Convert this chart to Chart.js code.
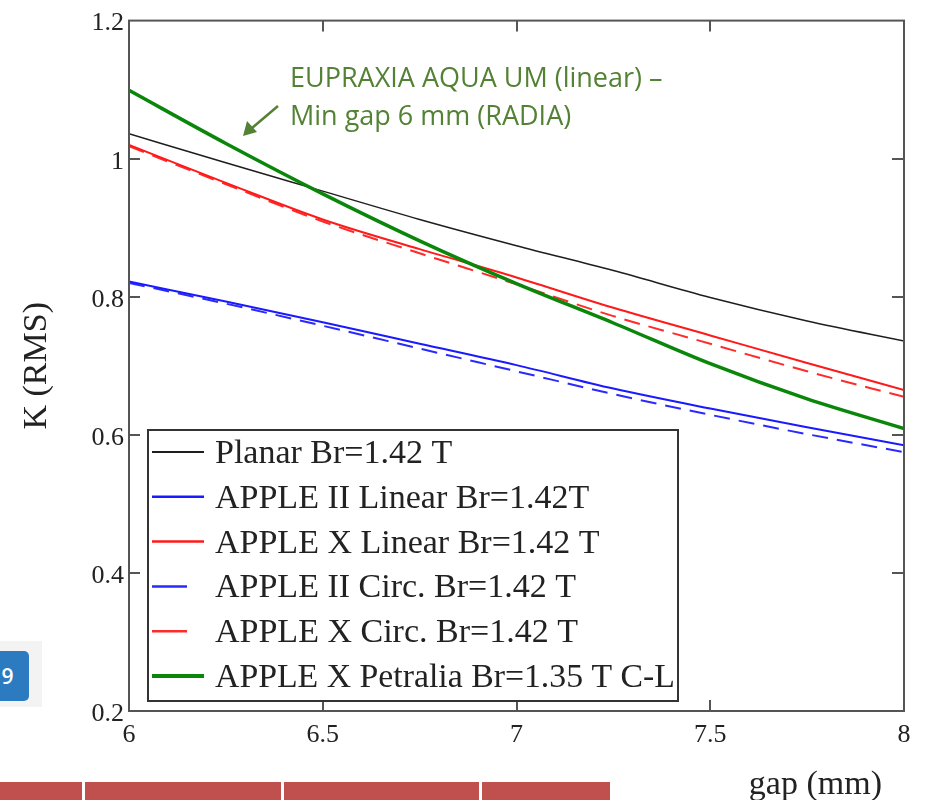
<!DOCTYPE html>
<html>
<head>
<meta charset="utf-8">
<script src="https://cdn.jsdelivr.net/npm/chart.js@4.4.1/dist/chart.umd.min.js"></script>
<style>
body { margin: 0; background: #fff; }
#wrap { position: relative; width: 926px; height: 800px; overflow: hidden; }
#kChart { position: absolute; left: 0; top: 0; }
.pad { position: absolute; left: 0; top: 641px; width: 42px; height: 66px; background: #f3f3f3; }
.badge { position: absolute; left: -14px; top: 651px; width: 43px; height: 50px; background: #2c7bc1;
  border-radius: 5px; color: #fff; font: 600 21px 'Open Sans'; line-height: 50px; text-align: center; }
.bar { position: absolute; top: 782px; height: 18px; background: #c0504d; }
</style>
</head>
<body>
<div id="wrap">
  <canvas id="kChart" width="926" height="800"></canvas>
  <div class="pad"></div>
  <div class="badge">9</div>
  <div class="bar" style="left:0;width:82px"></div>
  <div class="bar" style="left:85px;width:196px"></div>
  <div class="bar" style="left:284px;width:195px"></div>
  <div class="bar" style="left:482px;width:128px"></div>
</div>
<script>
// gap (mm)
const gaps = [6, 6.25, 6.5, 6.75, 7, 7.25, 7.5, 7.75, 8];

// K (RMS)
const planar     = [1.036, 0.994, 0.953, 0.912, 0.874, 0.838, 0.799, 0.765, 0.736];
const apple2Lin  = [0.822, 0.793, 0.763, 0.732, 0.701, 0.667, 0.638, 0.611, 0.585];
const appleXLin  = [1.020, 0.965, 0.912, 0.869, 0.828, 0.784, 0.744, 0.704, 0.665];
const apple2Circ = [0.820, 0.790, 0.758, 0.725, 0.692, 0.659, 0.629, 0.601, 0.575];
const appleXCirc = [1.018, 0.963, 0.909, 0.863, 0.818, 0.772, 0.732, 0.692, 0.655];
const petralia   = [1.099, 1.022, 0.949, 0.881, 0.819, 0.762, 0.703, 0.652, 0.609];

const labels = [
    'Planar Br=1.42 T',
    'APPLE II Linear Br=1.42T',
    'APPLE X Linear Br=1.42 T',
    'APPLE II Circ. Br=1.42 T',
    'APPLE X Circ. Br=1.42 T',
    'APPLE X Petralia Br=1.35 T C-L'
];

const noteLines = ['EUPRAXIA AQUA UM (linear) \u2013', 'Min gap 6 mm (RADIA)'];

const SERIF = "'Liberation Serif', 'DejaVu Serif', serif";

function pts(ys) {
    return ys.map((y, i) => ({x: gaps[i], y: y}));
}

function line(label, ys, color, width, dash, order) {
    return {
        label: label,
        data: pts(ys),
        borderColor: color,
        backgroundColor: color,
        borderWidth: width,
        borderDash: dash,
        pointRadius: 0,
        cubicInterpolationMode: 'monotone',
        fill: false,
        order: order,
    };
}

const plainNum = v => String(Number(v.toFixed(2)));

// frame, inner ticks, legend box, notes
const decor = {
    id: 'decor',
    afterDatasetsDraw(chart) {
        const {ctx, chartArea: a, scales} = chart;
        ctx.save();
        ctx.strokeStyle = '#555';
        ctx.lineWidth = 2;
        ctx.strokeRect(a.left, a.top, a.right - a.left, a.bottom - a.top);
        ctx.beginPath();
        scales.y.ticks.forEach(t => {
            const py = Math.round(scales.y.getPixelForValue(t.value));
            if (py <= a.top + 1 || py >= a.bottom - 1) return;
            ctx.moveTo(a.left, py); ctx.lineTo(a.left + 11, py);
            ctx.moveTo(a.right, py); ctx.lineTo(a.right - 12, py);
        });
        scales.x.ticks.forEach(t => {
            const px = Math.round(scales.x.getPixelForValue(t.value));
            if (px <= a.left + 1 || px >= a.right - 1) return;
            ctx.moveTo(px, a.bottom); ctx.lineTo(px, a.bottom - 11);
            ctx.moveTo(px, a.top); ctx.lineTo(px, a.top + 11);
        });
        ctx.stroke();

        // legend
        ctx.fillStyle = '#fff';
        ctx.fillRect(148, 430, 530, 271);
        ctx.strokeStyle = '#333';
        ctx.lineWidth = 2;
        ctx.strokeRect(148, 430, 530, 271);
        ctx.font = '34px ' + SERIF;
        ctx.textBaseline = 'middle';
        ctx.textAlign = 'left';
        chart.data.datasets.forEach((ds, i) => {
            const y = 452 + i * 44.8;
            ctx.beginPath();
            ctx.strokeStyle = ds.borderColor;
            ctx.lineWidth = ds.borderWidth + 0.5;
            ctx.moveTo(152, y);
            ctx.lineTo(ds.borderDash.length ? 187 : 204, y);
            ctx.stroke();
            ctx.fillStyle = '#222';
            ctx.fillText(ds.label, 215, y + 2, 460);
        });

        // x axis title
        ctx.font = '34px ' + SERIF;
        ctx.textAlign = 'right';
        ctx.textBaseline = 'alphabetic';
        ctx.fillText('gap (mm)', 882, 794);

        // note + arrow
        ctx.fillStyle = '#548235';
        ctx.strokeStyle = '#548235';
        ctx.font = "27px 'Open Sans'";
        ctx.textAlign = 'left';
        ctx.fillText(noteLines[0], 290, 87);
        ctx.fillText(noteLines[1], 290, 125);
        ctx.lineWidth = 2.5;
        ctx.beginPath();
        ctx.moveTo(278, 106);
        ctx.lineTo(252, 128);
        ctx.stroke();
        ctx.beginPath();
        ctx.moveTo(243, 136);
        ctx.lineTo(247, 121);
        ctx.lineTo(257, 132);
        ctx.closePath();
        ctx.fill();
        ctx.restore();
    }
};

const config = {
    type: 'line',
    data: {
        datasets: [
            line(labels[0], planar, '#1e1e1e', 1.5, [], 2),
            line(labels[1], apple2Lin, '#1a1aff', 2, [], 3),
            line(labels[2], appleXLin, '#ff1a1a', 2, [], 3),
            line(labels[3], apple2Circ, '#2a2aff', 2, [16, 9], 4),
            line(labels[4], appleXCirc, '#ff2a2a', 2, [16, 9], 4),
            line(labels[5], petralia, '#0a870a', 3.5, [], 1),
        ]
    },
    options: {
        responsive: false,
        devicePixelRatio: 1,
        animation: false,
        layout: {padding: {left: 0, right: 22, top: 17, bottom: 0}},
        plugins: {
            legend: {display: false},
            tooltip: {enabled: false},
        },
        scales: {
            x: {
                type: 'linear',
                min: 6,
                max: 8,
                ticks: {
                    stepSize: 0.5,
                    padding: 9,
                    color: '#222',
                    font: {size: 26, family: SERIF},
                    maxRotation: 0,
                    callback: plainNum,
                },
                grid: {display: false, drawTicks: false},
                border: {display: false},
                afterFit(scale) { scale.height = 89; },
            },
            y: {
                min: 0.2,
                max: 1.2,
                ticks: {
                    stepSize: 0.2,
                    padding: 5,
                    labelOffset: 3,
                    color: '#222',
                    font: {size: 26, family: SERIF},
                    callback: plainNum,
                },
                grid: {display: false, drawTicks: false},
                border: {display: false},
                title: {
                    display: true,
                    text: 'K (RMS)',
                    color: '#222',
                    font: {size: 34, family: SERIF},
                    padding: {top: 17, bottom: 0},
                },
                afterFit(scale) { scale.width = 129; },
            }
        }
    },
    plugins: [decor]
};

const kChart = new Chart(document.getElementById('kChart'), config);
</script>
</body>
</html>
